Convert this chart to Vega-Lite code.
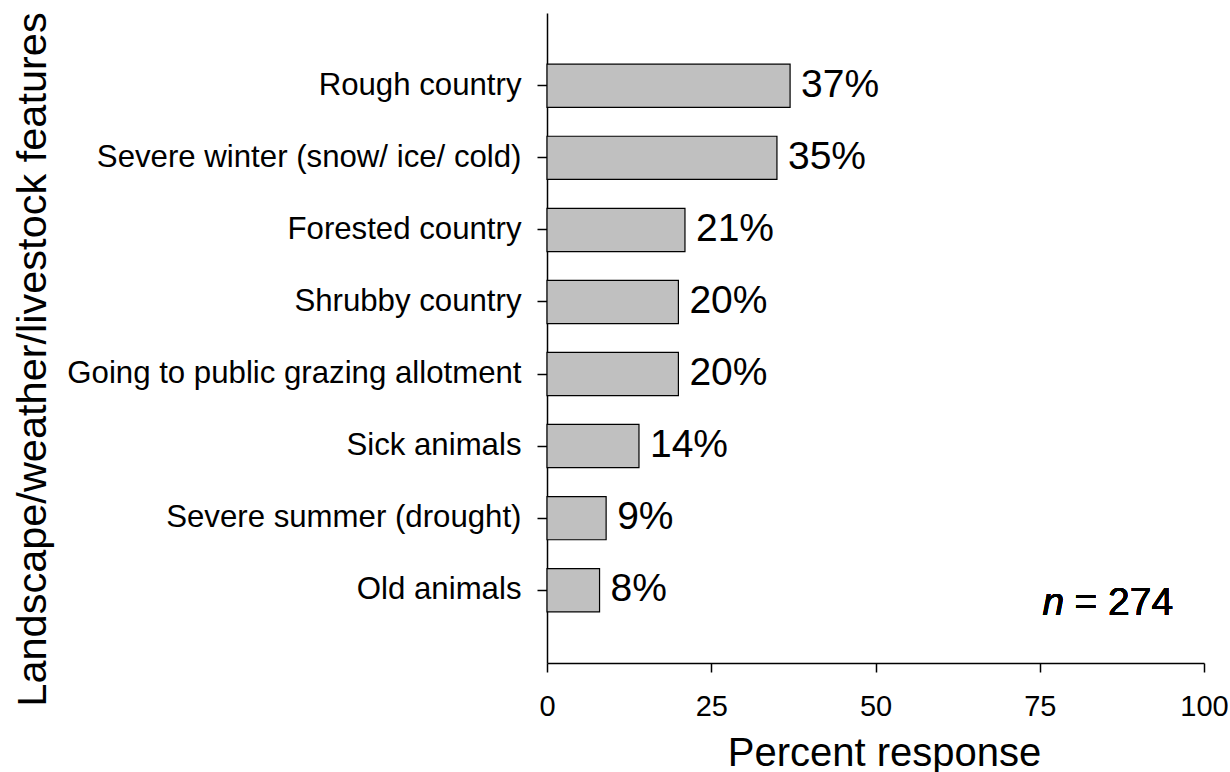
{
  "$schema": "https://vega.github.io/schema/vega-lite/v6.json",
  "autosize": "none",
  "padding": {"left": 547, "top": 13, "right": 26, "bottom": 109},
  "width": 657,
  "height": 650,
  "background": "white",
  "config": {
    "view": {"stroke": null},
    "font": "Liberation Sans",
    "axis": {"grid": false, "domainColor": "black", "tickColor": "black", "labelColor": "black", "titleColor": "black", "titleFontWeight": "normal", "labelFont": "Liberation Sans", "titleFont": "Liberation Sans", "domainWidth": 1.5, "tickWidth": 1.5}
  },
  "data": {
    "values": [
      {"feature": "Rough country", "pct": 37},
      {"feature": "Severe winter (snow/ ice/ cold)", "pct": 35},
      {"feature": "Forested country", "pct": 21},
      {"feature": "Shrubby country", "pct": 20},
      {"feature": "Going to public grazing allotment", "pct": 20},
      {"feature": "Sick animals", "pct": 14},
      {"feature": "Severe summer (drought)", "pct": 9},
      {"feature": "Old animals", "pct": 8}
    ]
  },
  "encoding": {
    "y": {
      "field": "feature", "type": "nominal", "sort": null,
      "scale": {"paddingInner": 0.4, "paddingOuter": 0.71},
      "axis": {
        "title": "Landscape/weather/livestock features",
        "titleFontSize": 41.5, "titleAngle": -90, "titleAlign": "center", "titleBaseline": "alphabetic",
        "titleX": -502, "titleY": 346,
        "labelFontSize": 31.2, "tickSize": 10, "labelPadding": 16, "labelLimit": 600
      }
    }
  },
  "layer": [
    {
      "mark": {"type": "bar", "fill": "#c0c0c0", "stroke": "black", "strokeWidth": 1.2},
      "encoding": {
        "x": {
          "field": "pct", "type": "quantitative",
          "scale": {"domain": [0, 100], "nice": false},
          "axis": {
            "title": "Percent response", "values": [0, 25, 50, 75, 100],
            "titleFontSize": 40, "titleX": 337, "titleY": 102, "titleBaseline": "alphabetic", "titleAlign": "center",
            "labelFontSize": 29, "tickSize": 9, "labelPadding": 20, "labelFlush": false
          }
        }
      }
    },
    {
      "transform": [{"calculate": "datum.pct + '%'", "as": "label"}],
      "mark": {"type": "text", "align": "left", "baseline": "middle", "dx": 11, "dy": -1, "fontSize": 39, "color": "black"},
      "encoding": {
        "x": {"field": "pct", "type": "quantitative"},
        "text": {"field": "label", "type": "nominal"}
      }
    },
    {
      "mark": {"type": "text", "align": "left", "baseline": "middle", "dy": 13, "fontSize": 39, "fontStyle": "italic", "color": "black"},
      "encoding": {
        "x": {"datum": 75.4},
        "y": {"datum": "Old animals"},
        "text": {"value": "n"}
      }
    },
    {
      "mark": {"type": "text", "align": "right", "baseline": "middle", "dy": 13, "fontSize": 39, "color": "black"},
      "encoding": {
        "x": {"datum": 95.3},
        "y": {"datum": "Old animals"},
        "text": {"value": "= 274"}
      }
    }
  ]
}
